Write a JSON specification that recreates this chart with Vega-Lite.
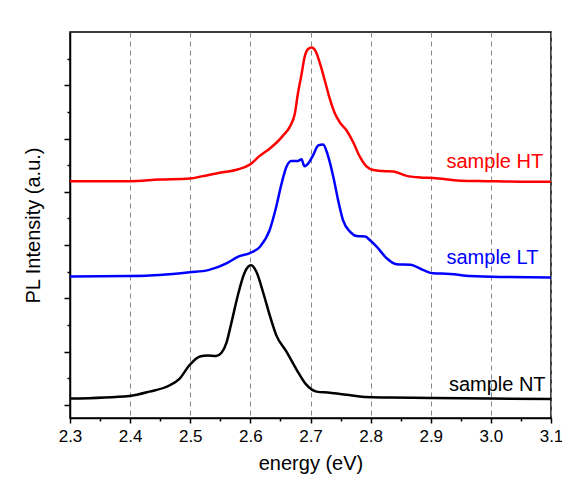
{
  "$schema": "https://vega.github.io/schema/vega-lite/v6.json",
  "width": 481,
  "height": 386,
  "autosize": {"type": "none"},
  "padding": {"left": 70, "top": 32, "right": 11, "bottom": 64},
  "background": "white",
  "config": {
    "view": {"stroke": "black", "strokeWidth": 1.5},
    "font": "Liberation Sans",
    "axis": {"domainColor": "black", "domainWidth": 1.5, "tickColor": "black", "tickWidth": 1.5, "labelColor": "black", "titleColor": "black", "titleFontWeight": "normal", "labelFont": "Liberation Sans", "titleFont": "Liberation Sans"}
  },
  "datasets": {
    "spectra": [
      {"sample": "HT", "energy": 2.300, "intensity": 4.20},
      {"sample": "HT", "energy": 2.399, "intensity": 4.20},
      {"sample": "HT", "energy": 2.449, "intensity": 4.23},
      {"sample": "HT", "energy": 2.499, "intensity": 4.25},
      {"sample": "HT", "energy": 2.519, "intensity": 4.29},
      {"sample": "HT", "energy": 2.549, "intensity": 4.36},
      {"sample": "HT", "energy": 2.579, "intensity": 4.42},
      {"sample": "HT", "energy": 2.599, "intensity": 4.51},
      {"sample": "HT", "energy": 2.616, "intensity": 4.68},
      {"sample": "HT", "energy": 2.632, "intensity": 4.81},
      {"sample": "HT", "energy": 2.645, "intensity": 4.94},
      {"sample": "HT", "energy": 2.654, "intensity": 5.05},
      {"sample": "HT", "energy": 2.665, "intensity": 5.21},
      {"sample": "HT", "energy": 2.674, "intensity": 5.47},
      {"sample": "HT", "energy": 2.679, "intensity": 5.84},
      {"sample": "HT", "energy": 2.685, "intensity": 6.20},
      {"sample": "HT", "energy": 2.690, "intensity": 6.52},
      {"sample": "HT", "energy": 2.696, "intensity": 6.68},
      {"sample": "HT", "energy": 2.702, "intensity": 6.71},
      {"sample": "HT", "energy": 2.709, "intensity": 6.63},
      {"sample": "HT", "energy": 2.716, "intensity": 6.40},
      {"sample": "HT", "energy": 2.724, "intensity": 6.08},
      {"sample": "HT", "energy": 2.732, "intensity": 5.75},
      {"sample": "HT", "energy": 2.741, "intensity": 5.46},
      {"sample": "HT", "energy": 2.749, "intensity": 5.30},
      {"sample": "HT", "energy": 2.760, "intensity": 5.15},
      {"sample": "HT", "energy": 2.771, "intensity": 4.93},
      {"sample": "HT", "energy": 2.782, "intensity": 4.66},
      {"sample": "HT", "energy": 2.793, "intensity": 4.48},
      {"sample": "HT", "energy": 2.805, "intensity": 4.41},
      {"sample": "HT", "energy": 2.820, "intensity": 4.39},
      {"sample": "HT", "energy": 2.838, "intensity": 4.38},
      {"sample": "HT", "energy": 2.860, "intensity": 4.30},
      {"sample": "HT", "energy": 2.882, "intensity": 4.27},
      {"sample": "HT", "energy": 2.904, "intensity": 4.26},
      {"sample": "HT", "energy": 2.949, "intensity": 4.21},
      {"sample": "HT", "energy": 2.993, "intensity": 4.20},
      {"sample": "HT", "energy": 3.050, "intensity": 4.19},
      {"sample": "HT", "energy": 3.100, "intensity": 4.19},

      {"sample": "LT", "energy": 2.300, "intensity": 2.41},
      {"sample": "LT", "energy": 2.399, "intensity": 2.42},
      {"sample": "LT", "energy": 2.449, "intensity": 2.44},
      {"sample": "LT", "energy": 2.499, "intensity": 2.49},
      {"sample": "LT", "energy": 2.530, "intensity": 2.53},
      {"sample": "LT", "energy": 2.561, "intensity": 2.66},
      {"sample": "LT", "energy": 2.579, "intensity": 2.78},
      {"sample": "LT", "energy": 2.599, "intensity": 2.85},
      {"sample": "LT", "energy": 2.616, "intensity": 2.97},
      {"sample": "LT", "energy": 2.632, "intensity": 3.28},
      {"sample": "LT", "energy": 2.643, "intensity": 3.72},
      {"sample": "LT", "energy": 2.652, "intensity": 4.16},
      {"sample": "LT", "energy": 2.660, "intensity": 4.47},
      {"sample": "LT", "energy": 2.668, "intensity": 4.58},
      {"sample": "LT", "energy": 2.679, "intensity": 4.58},
      {"sample": "LT", "energy": 2.685, "intensity": 4.61},
      {"sample": "LT", "energy": 2.690, "intensity": 4.48},
      {"sample": "LT", "energy": 2.696, "intensity": 4.53},
      {"sample": "LT", "energy": 2.704, "intensity": 4.68},
      {"sample": "LT", "energy": 2.713, "intensity": 4.87},
      {"sample": "LT", "energy": 2.721, "intensity": 4.89},
      {"sample": "LT", "energy": 2.729, "intensity": 4.68},
      {"sample": "LT", "energy": 2.738, "intensity": 4.28},
      {"sample": "LT", "energy": 2.746, "intensity": 3.84},
      {"sample": "LT", "energy": 2.754, "intensity": 3.47},
      {"sample": "LT", "energy": 2.766, "intensity": 3.25},
      {"sample": "LT", "energy": 2.777, "intensity": 3.17},
      {"sample": "LT", "energy": 2.791, "intensity": 3.16},
      {"sample": "LT", "energy": 2.799, "intensity": 3.09},
      {"sample": "LT", "energy": 2.810, "intensity": 2.97},
      {"sample": "LT", "energy": 2.827, "intensity": 2.75},
      {"sample": "LT", "energy": 2.843, "intensity": 2.64},
      {"sample": "LT", "energy": 2.866, "intensity": 2.63},
      {"sample": "LT", "energy": 2.888, "intensity": 2.53},
      {"sample": "LT", "energy": 2.904, "intensity": 2.47},
      {"sample": "LT", "energy": 2.932, "intensity": 2.46},
      {"sample": "LT", "energy": 2.966, "intensity": 2.42},
      {"sample": "LT", "energy": 3.030, "intensity": 2.40},
      {"sample": "LT", "energy": 3.100, "intensity": 2.39},

      {"sample": "NT", "energy": 2.300, "intensity": 0.12},
      {"sample": "NT", "energy": 2.399, "intensity": 0.17},
      {"sample": "NT", "energy": 2.432, "intensity": 0.25},
      {"sample": "NT", "energy": 2.466, "intensity": 0.37},
      {"sample": "NT", "energy": 2.482, "intensity": 0.49},
      {"sample": "NT", "energy": 2.499, "intensity": 0.75},
      {"sample": "NT", "energy": 2.516, "intensity": 0.91},
      {"sample": "NT", "energy": 2.529, "intensity": 0.93},
      {"sample": "NT", "energy": 2.543, "intensity": 0.92},
      {"sample": "NT", "energy": 2.552, "intensity": 0.98},
      {"sample": "NT", "energy": 2.560, "intensity": 1.16},
      {"sample": "NT", "energy": 2.568, "intensity": 1.52},
      {"sample": "NT", "energy": 2.579, "intensity": 2.05},
      {"sample": "NT", "energy": 2.590, "intensity": 2.47},
      {"sample": "NT", "energy": 2.596, "intensity": 2.59},
      {"sample": "NT", "energy": 2.601, "intensity": 2.62},
      {"sample": "NT", "energy": 2.610, "intensity": 2.50},
      {"sample": "NT", "energy": 2.621, "intensity": 2.12},
      {"sample": "NT", "energy": 2.632, "intensity": 1.69},
      {"sample": "NT", "energy": 2.643, "intensity": 1.31},
      {"sample": "NT", "energy": 2.660, "intensity": 1.00},
      {"sample": "NT", "energy": 2.677, "intensity": 0.66},
      {"sample": "NT", "energy": 2.693, "intensity": 0.38},
      {"sample": "NT", "energy": 2.710, "intensity": 0.25},
      {"sample": "NT", "energy": 2.732, "intensity": 0.23},
      {"sample": "NT", "energy": 2.760, "intensity": 0.19},
      {"sample": "NT", "energy": 2.790, "intensity": 0.15},
      {"sample": "NT", "energy": 2.830, "intensity": 0.14},
      {"sample": "NT", "energy": 2.899, "intensity": 0.13},
      {"sample": "NT", "energy": 2.999, "intensity": 0.12},
      {"sample": "NT", "energy": 3.100, "intensity": 0.11}
    ],
    "labels": [
      {"sample": "HT", "label": "sample HT", "energy": 3.087, "intensity": 4.44},
      {"sample": "LT", "label": "sample LT", "energy": 3.079, "intensity": 2.64},
      {"sample": "NT", "label": "sample NT", "energy": 3.091, "intensity": 0.27}
    ]
  },
  "layer": [
    {
      "data": {"name": "spectra"},
      "mark": {"type": "line", "strokeWidth": 2.5, "interpolate": "monotone"},
      "encoding": {
        "x": {
          "field": "energy", "type": "quantitative",
          "scale": {"domain": [2.3, 3.1], "nice": false, "zero": false},
          "axis": {
            "title": "energy (eV)", "orient": "bottom",
            "values": [2.3, 2.4, 2.5, 2.6, 2.7, 2.8, 2.9, 3.0, 3.1], "format": ".1f",
            "grid": true, "gridDash": [5, 4], "gridColor": "#888888", "gridWidth": 1, "gridOpacity": 1,
            "tickSize": 5, "labelFontSize": 17, "labelPadding": 5, "labelFlush": false,
            "titleFontSize": 20, "titlePadding": 9
          }
        },
        "y": {
          "field": "intensity", "type": "quantitative",
          "scale": {"domain": [-0.245, 7], "nice": false, "zero": false},
          "axis": {
            "title": "PL Intensity (a.u.)", "orient": "left",
            "values": [0, 1, 2, 3, 4, 5, 6], "labels": false, "grid": false,
            "tickSize": 6, "titleFontSize": 20, "titlePadding": 20
          }
        },
        "color": {
          "field": "sample", "type": "nominal",
          "scale": {"domain": ["HT", "LT", "NT"], "range": ["#ff0000", "#0000ff", "#000000"]},
          "legend": null
        }
      }
    },
    {
      "data": {"name": "labels"},
      "mark": {"type": "text", "align": "right", "baseline": "alphabetic", "fontSize": 20, "font": "Liberation Sans"},
      "encoding": {
        "x": {
          "field": "energy", "type": "quantitative",
          "axis": {
            "orient": "bottom", "title": null, "labels": false, "domain": false, "grid": false,
            "values": [2.35, 2.45, 2.55, 2.65, 2.75, 2.85, 2.95, 3.05], "tickSize": 3
          }
        },
        "y": {
          "field": "intensity", "type": "quantitative",
          "axis": {
            "orient": "left", "title": null, "labels": false, "domain": false, "grid": false,
            "values": [0.5, 1.5, 2.5, 3.5, 4.5, 5.5, 6.5], "tickSize": 3
          }
        },
        "text": {"field": "label", "type": "nominal"},
        "color": {"field": "sample", "type": "nominal", "legend": null}
      }
    }
  ],
  "resolve": {"axis": {"x": "independent", "y": "independent"}}
}
